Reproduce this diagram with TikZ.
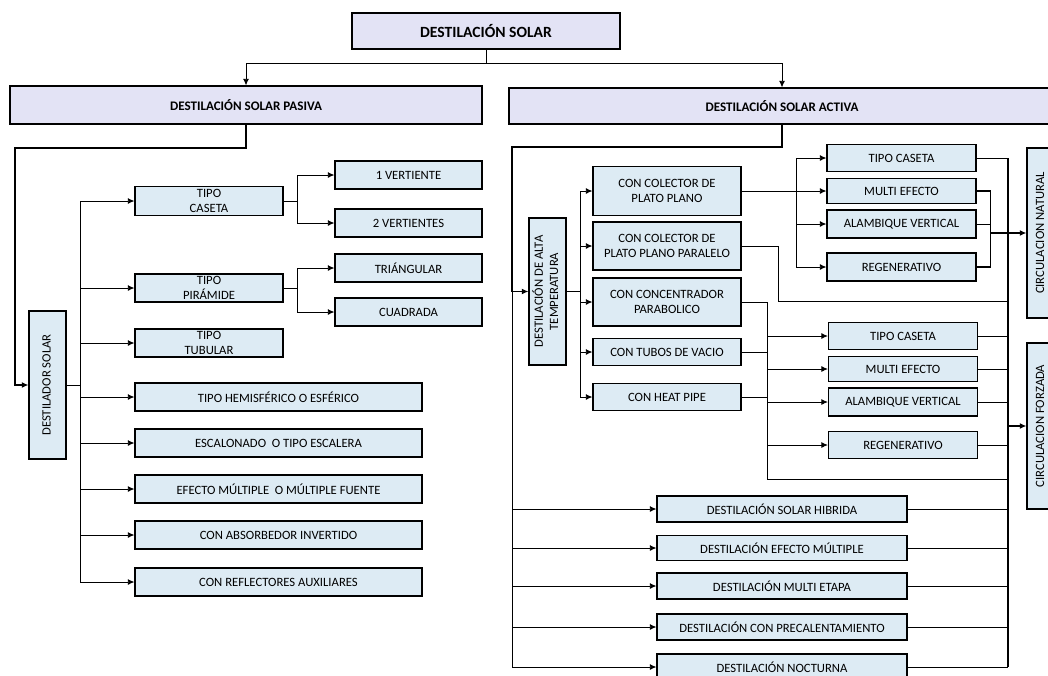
\documentclass[tikz,border=0pt]{standalone}
\usepackage{fontspec}
\setmainfont{Carlito}
\usetikzlibrary{arrows.meta}
\definecolor{boxblue}{RGB}{221,235,244}
\definecolor{lavender}{RGB}{227,227,245}
\newcommand{\uptext}[1]{\rotatebox{90}{\begin{tabular}{@{}c@{}}#1\end{tabular}}}

\begin{document}
\begin{tikzpicture}[
    x=0.75pt, y=-0.75pt,
    every node/.style={font=\fontsize{9.5}{11.5}\selectfont},
    box/.style={rectangle, draw, line width=0.8pt, fill=boxblue, inner sep=0pt, align=center},
    headbox/.style={box, fill=lavender, font=\fontsize{9.8}{11.5}\selectfont\bfseries},
    boxsize/.style 2 args={minimum width=#1*0.75pt, minimum height=#2*0.75pt},
    arrow/.style={-{Latex[length=5pt,width=4.5pt]}},
    link/.style={line width=0.7pt},
    heavy/.style={line width=1.3pt}
]
\useasboundingbox (0,0) rectangle (1048,675);

\node[headbox, boxsize={268}{36}, font=\fontsize{11.7}{13}\selectfont\bfseries] (solar) at (486,31) {DESTILACIÓN SOLAR};
\node[headbox, boxsize={472}{38}] (pasiva) at (246,105) {DESTILACIÓN SOLAR PASIVA};
\node[headbox, boxsize={546}{36}] (activa) at (782,106) {DESTILACIÓN SOLAR ACTIVA};

\draw[arrow, link] (solar.south) -- ++(0,14) -| (pasiva.north);
\draw[arrow, link] (solar.south) -- ++(0,14) -| (activa.north);

% pasiva
\node[box, boxsize={37}{148}] (destilador) at (47.5,385) {\uptext{DESTILADOR SOLAR}};
\node[box, boxsize={148}{29}] (caseta) at (209,201) {TIPO\\CASETA};
\node[box, boxsize={148}{28}] (piramide) at (209,288) {TIPO\\PIRÁMIDE};
\node[box, boxsize={148}{28}] (tubular) at (209,343) {TIPO\\TUBULAR};
\node[box, boxsize={287}{28}] (hemis) at (278.5,397) {TIPO HEMISFÉRICO O ESFÉRICO};
\node[box, boxsize={287}{28}] (escal) at (278.5,443) {ESCALONADO \ O TIPO ESCALERA};
\node[box, boxsize={287}{28}] (efecto) at (278.5,489) {EFECTO MÚLTIPLE \ O MÚLTIPLE FUENTE};
\node[box, boxsize={287}{28}] (absorb) at (278.5,535) {CON ABSORBEDOR INVERTIDO};
\node[box, boxsize={287}{28}] (reflect) at (278.5,582) {CON REFLECTORES AUXILIARES};
\node[box, boxsize={147}{28}] (vert1) at (408.5,175) {1 VERTIENTE};
\node[box, boxsize={147}{28}] (vert2) at (408.5,223) {2 VERTIENTES};
\node[box, boxsize={147}{28}] (triang) at (408.5,268) {TRIÁNGULAR};
\node[box, boxsize={147}{28}] (cuadr) at (408.5,312) {CUADRADA};

\coordinate (pbend) at (15,148);
\draw[arrow, heavy] (pasiva.south) |- (pbend) |- (destilador.west);
\foreach \n in {caseta, piramide, tubular, hemis, escal, efecto, absorb, reflect}
    \draw[arrow, link] (destilador.east) -- ++(14,0) |- (\n.west);
\draw[arrow, link] (caseta.east) -- ++(14,0) |- (vert1.west);
\draw[arrow, link] (caseta.east) -- ++(14,0) |- (vert2.west);
\draw[arrow, link] (piramide.east) -- ++(14,0) |- (triang.west);
\draw[arrow, link] (piramide.east) -- ++(14,0) |- (cuadr.west);

% activa
\node[box, boxsize={37}{147}] (alta) at (547.5,291.5) {\uptext{DESTILACIÓN DE ALTA\\TEMPERATURA}};
\node[box, boxsize={148}{49}] (cplano) at (667,191) {CON COLECTOR DE\\PLATO PLANO};
\node[box, boxsize={148}{48}] (cparalelo) at (667,246) {CON COLECTOR DE\\PLATO PLANO PARALELO};
\node[box, boxsize={148}{48}] (cparab) at (667,302) {CON CONCENTRADOR\\PARABOLICO};
\node[box, boxsize={148}{27}] (ctubos) at (667,352) {CON TUBOS DE VACIO};
\node[box, boxsize={148}{27}] (cheat) at (667,397) {CON HEAT PIPE};

\node[box, boxsize={149}{27}] (ncaseta) at (901.5,158) {TIPO CASETA};
\node[box, boxsize={149}{25}] (nmulti) at (901.5,191) {MULTI EFECTO};
\node[box, boxsize={149}{28}] (nalamb) at (901.5,224) {ALAMBIQUE VERTICAL};
\node[box, boxsize={149}{28}] (nregen) at (901.5,267) {REGENERATIVO};

\node[box, boxsize={149}{27}] (fcaseta) at (903,336) {TIPO CASETA};
\node[box, boxsize={149}{25}] (fmulti) at (903,369) {MULTI EFECTO};
\node[box, boxsize={149}{28}] (falamb) at (903,402) {ALAMBIQUE VERTICAL};
\node[box, boxsize={149}{27}] (fregen) at (903,445) {REGENERATIVO};

\node[box, boxsize={28}{170}] (natural) at (1041,233) {\uptext{CIRCULACION NATURAL}};
\node[box, boxsize={28}{166}] (forzada) at (1041,426) {\uptext{CIRCULACION FORZADA}};

\node[box, boxsize={250}{26}] (hibrida) at (782,509) {DESTILACIÓN SOLAR HIBRIDA};
\node[box, boxsize={250}{25}] (emultiple) at (782,548) {DESTILACIÓN EFECTO MÚLTIPLE};
\node[box, boxsize={250}{26}] (metapa) at (782,586) {DESTILACIÓN MULTI ETAPA};
\node[box, boxsize={250}{26}] (precal) at (782,627) {DESTILACIÓN CON PRECALENTAMIENTO};
\node[box, boxsize={250}{26}] (nocturna) at (782,667) {DESTILACIÓN NOCTURNA};

\coordinate (abend) at (512,147);
\draw[arrow, heavy] (activa.south) |- (abend) |- (alta.west);
\foreach \n in {hibrida, emultiple, metapa, precal, nocturna}
    \draw[arrow, link] (abend) |- (\n.west);
\foreach \n in {cplano, cparalelo, cparab, ctubos, cheat}
    \draw[arrow, link] (alta.east) -- ++(14,0) |- (\n.west);

\draw[arrow, link] (cplano.east) -- (nmulti.west);
\foreach \n in {ncaseta, nalamb, nregen}
    \draw[arrow, link] (cplano.east) -- ++(55,0) |- (\n.west);

\foreach \n in {fcaseta, fmulti, falamb, fregen}
    \draw[arrow, link] (cparab.east) -- ++(26,0) |- (\n.west);
\draw[link] (ctubos.east) -- ++(26,0);
\draw[link] (cheat.east) -- ++(26,0);
\draw[link] (cparab.east) -- ++(26,0) -- ++(0,177) -- ++(241,0);
\draw[link] (cparalelo.east) -- ++(37,0) -- ++(0,55) -- ++(230,0);

\coordinate (rbus) at (1008,0);
\draw[heavy] (ncaseta.east -| rbus) -- (nocturna.east -| rbus);
\foreach \n in {ncaseta, fcaseta, fmulti, falamb, fregen, hibrida, emultiple, metapa, precal, nocturna}
    \draw[link] (\n.east) -- (\n.east -| rbus);

\draw[heavy] (nmulti.east) -- ++(14,0) |- (nregen.east);
\draw[link] (nalamb.east) -- ++(14,0);
\draw[arrow, heavy] (natural.west -| nmulti.east) ++(14,0) -- (natural.west);
\draw[arrow, heavy] (forzada.west -| rbus) -- (forzada.west);

\end{tikzpicture}
\end{document}
